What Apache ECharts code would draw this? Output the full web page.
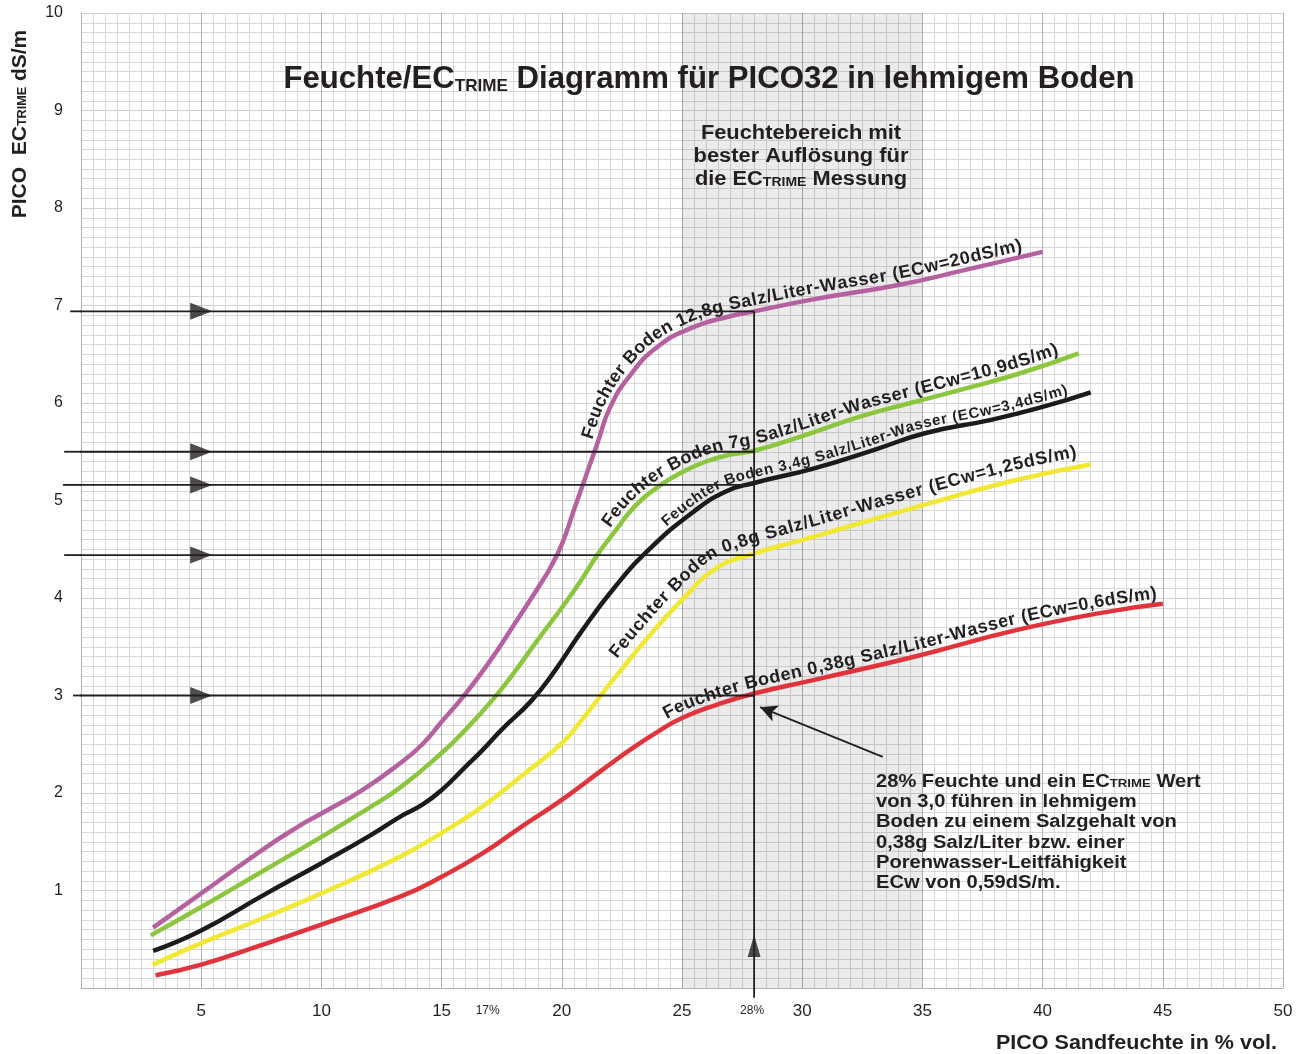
<!DOCTYPE html>
<html>
<head>
<meta charset="utf-8">
<script src="https://cdn.jsdelivr.net/npm/echarts@6/dist/echarts.min.js"></script>
<style>
html,body{margin:0;padding:0;background:#fff;}
#c{width:1305px;height:1054px;}
</style>
</head>
<body>
<div id="c"></div>
<script>
// ---------------- DATA ----------------
const xTickLabels = [5, 10, 15, 20, 25, 30, 35, 40, 45, 50];
const yTickLabels = [1, 2, 3, 4, 5, 6, 7, 8, 9, 10];
const xMarkLabels = [17, 28];            // extra labels "17%" and "28%"
const bandRange = [25, 35];              // best-resolution moisture range

// PICO moisture (% vol) vs ECtrime (dS/m)
const salt128 = [[3.0,0.62],[5,0.97],[7.5,1.41],[9,1.65],[10,1.79],[11.7,2.03],[13.3,2.31],[14.2,2.5],[15,2.73],[16,3.02],[17,3.35],[18,3.72],[19,4.1],[19.5,4.3],[20,4.55],[20.5,4.9],[21,5.25],[21.5,5.6],[22,5.95],[22.8,6.27],[24,6.58],[25.5,6.78],[27,6.89],[28,6.94],[30.4,7.06],[34,7.21],[36.7,7.36],[40,7.55]];
const salt70 = [[2.9,0.54],[5,0.83],[7.5,1.19],[10,1.55],[12,1.85],[13.3,2.06],[15,2.41],[16,2.65],[17.1,2.95],[18,3.23],[19,3.57],[20,3.9],[20.8,4.18],[21.5,4.45],[22.2,4.68],[23,4.93],[24,5.14],[25,5.29],[26,5.4],[27,5.47],[28,5.51],[30,5.66],[32.4,5.86],[34.5,6.0],[36.5,6.13],[39,6.3],[41.5,6.51]];
const salt34 = [[3.0,0.38],[5,0.59],[7.5,0.94],[10,1.28],[12,1.56],[13.3,1.76],[14.2,1.88],[15,2.03],[16,2.27],[16.7,2.44],[17.5,2.65],[18.75,2.95],[19.7,3.25],[20.8,3.65],[22.2,4.11],[23.6,4.49],[25.4,4.87],[26.8,5.09],[28,5.18],[30.5,5.33],[33,5.52],[35.1,5.69],[37.9,5.83],[40,5.96],[42,6.11]];
const salt08 = [[3.0,0.24],[5,0.46],[7.5,0.71],[10,0.97],[13.3,1.35],[15,1.59],[16.7,1.86],[18.3,2.17],[20,2.51],[20.8,2.74],[21.4,2.93],[22.2,3.18],[23.6,3.6],[25,3.98],[26.4,4.3],[27.8,4.44],[30.5,4.63],[34.7,4.93],[38.9,5.21],[42,5.37]];
const salt038 = [[3.1,0.13],[5,0.24],[7.5,0.44],[10,0.65],[13.3,0.94],[15,1.14],[16.7,1.38],[18.3,1.65],[20,1.93],[21.7,2.24],[23,2.47],[24,2.63],[25,2.77],[26.5,2.91],[28,3.02],[30.5,3.16],[34.7,3.4],[38.9,3.67],[42.5,3.85],[45,3.94]];

const curveTexts = [
  'Feuchter Boden 12,8g Salz/Liter-Wasser (ECw=20dS/m)',
  'Feuchter Boden 7g Salz/Liter-Wasser (ECw=10,9dS/m)',
  'Feuchter Boden 3,4g Salz/Liter-Wasser (ECw=3,4dS/m)',
  'Feuchter Boden 0,8g Salz/Liter-Wasser (ECw=1,25dS/m)',
  'Feuchter Boden 0,38g Salz/Liter-Wasser (ECw=0,6dS/m)'
];

// reading example at 28 % moisture
const readX = 28;
const readY = [6.94, 5.5, 5.16, 4.44, 3.0];
const readLineStart = [-0.45, -0.7, -0.75, -0.7, -0.33];
const readArrowX = 5;
const readBottom = -0.1;
const readUpArrowY = 0.43;
const noteArrowFrom = [33.35, 2.37];
const noteArrowTo = [28.25, 2.88];

// ---------------- STYLE ----------------
const FONT = '"Liberation Sans", Arial, Helvetica, sans-serif';
const INK = '#231f20';
const curveStyles = [
  { data: salt128, color: '#b5619f' },
  { data: salt70,  color: '#8cc63e' },
  { data: salt34,  color: '#1b1b1b' },
  { data: salt08,  color: '#f0e832' },
  { data: salt038, color: '#e1333c' }
];
// label placement along each curve (start / end moisture, font, offset)
const labelLayout = [
  { start: 21.5, end: 39.2, size: 18, weight: 'bold', off: 11 },
  { start: 22.2, end: 40.7, size: 18, weight: 'bold', off: 11 },
  { start: 24.5, end: 41.1, size: 15, weight: 'bold', off: 9.5 },
  { start: 22.6, end: 41.5, size: 18, weight: 'bold', off: 15 },
  { start: 24.5, end: 44.75, size: 18, weight: 'bold', off: 11 }
];

const chart = echarts.init(document.getElementById('c'), null, { renderer: 'canvas' });

const series = [];
curveStyles.forEach((c, i) => {
  const s = {
    type: 'line', data: c.data, smooth: 0.5, showSymbol: false, symbol: 'none',
    silent: true, z: 3,
    lineStyle: { color: c.color, width: 4.5, cap: 'butt' }
  };
  if (i === 0) {
    s.markArea = {
      silent: true,
      itemStyle: { color: 'rgba(0,0,0,0.08)' },
      data: [[{ xAxis: bandRange[0] }, { xAxis: bandRange[1] }]]
    };
  }
  series.push(s);
});
// horizontal reading lines
readY.forEach((y, i) => {
  series.push({
    type: 'line', data: [[readLineStart[i], y], [readX, y]], showSymbol: false, symbol: 'none',
    clip: false, silent: true, z: 5, lineStyle: { color: INK, width: 1.8 }
  });
});
// vertical reading line
series.push({
  type: 'line', data: [[readX, readBottom], [readX, readY[0]]], showSymbol: false, symbol: 'none',
  clip: false, silent: true, z: 5, lineStyle: { color: INK, width: 1.8 }
});
// arrow heads on horizontal lines
series.push({
  type: 'scatter', data: readY.map(y => [readArrowX, y]), symbol: 'triangle', symbolRotate: -90,
  symbolSize: [17, 22], itemStyle: { color: INK }, silent: true, z: 6
});
// arrow head on vertical line
series.push({
  type: 'scatter', data: [[readX, readUpArrowY]], symbol: 'triangle',
  symbolSize: [13, 22], itemStyle: { color: INK }, silent: true, z: 6
});
// note arrow
series.push({
  type: 'line', data: [], silent: true, z: 6,
  markLine: {
    silent: true, symbol: ['none', 'arrow'], symbolSize: [13, 17],
    label: { show: false },
    lineStyle: { color: INK, width: 1.8, type: 'solid' },
    data: [[{ coord: noteArrowFrom }, { coord: noteArrowTo }]]
  }
});

chart.setOption({
  animation: false,
  backgroundColor: '#ffffff',
  textStyle: { fontFamily: FONT },
  grid: { left: 81, right: 22, top: 13, bottom: 66 },
  xAxis: {
    type: 'value', min: 0, max: 50, interval: 5,
    axisLine: { show: true, onZero: false, lineStyle: { color: '#b0b0b0', width: 1 } },
    axisTick: { show: false },
    axisLabel: { margin: 15, fontSize: 17, color: INK, fontFamily: FONT,
      formatter: v => xTickLabels.includes(v) ? String(v) : '' },
    splitLine: { show: true, lineStyle: { color: '#b0b0b0', width: 1 } },
    minorTick: { show: false, splitNumber: 10 },
    minorSplitLine: { show: true, lineStyle: { color: '#d8d8d8', width: 1 } }
  },
  yAxis: {
    type: 'value', min: 0, max: 10, interval: 1,
    axisLine: { show: true, onZero: false, lineStyle: { color: '#b0b0b0', width: 1 } },
    axisTick: { show: false },
    axisLabel: { margin: 18, fontSize: 16, color: INK, fontFamily: FONT,
      formatter: v => yTickLabels.includes(v) ? String(v) : '' },
    splitLine: { show: true, lineStyle: { color: '#d0d0d0', width: 1 } },
    minorTick: { show: false, splitNumber: 10 },
    minorSplitLine: { show: true, lineStyle: { color: '#d8d8d8', width: 1 } }
  },
  series: series
});

// ---------------- TEXT ----------------
const measureCtx = document.createElement('canvas').getContext('2d');
function toPx(p) { return chart.convertToPixel({ gridIndex: 0 }, p); }

function catmull(pts, n) {
  const out = [];
  for (let i = 0; i < pts.length - 1; i++) {
    const p0 = pts[Math.max(i - 1, 0)], p1 = pts[i], p2 = pts[i + 1], p3 = pts[Math.min(i + 2, pts.length - 1)];
    for (let k = 0; k < n; k++) {
      const t = k / n, t2 = t * t, t3 = t2 * t;
      const f = j => 0.5 * (2 * p1[j] + (-p0[j] + p2[j]) * t + (2 * p0[j] - 5 * p1[j] + 4 * p2[j] - p3[j]) * t2 + (-p0[j] + 3 * p1[j] - 3 * p2[j] + p3[j]) * t3);
      out.push([f(0), f(1)]);
    }
  }
  out.push(pts[pts.length - 1].slice());
  return out;
}

function curvedLabel(data, text, lay) {
  const pts = data.map(toPx);
  const base = catmull(pts, 30);
  const N = base.length;
  const q = [];
  for (let i = 0; i < N; i++) {
    const a = base[Math.max(0, i - 3)], b = base[Math.min(N - 1, i + 3)];
    let tx = b[0] - a[0], ty = b[1] - a[1];
    const l = Math.hypot(tx, ty) || 1; tx /= l; ty /= l;
    q.push([base[i][0] + ty * lay.off, base[i][1] - tx * lay.off, base[i][0]]);
  }
  const cum = [0];
  for (let i = 1; i < N; i++) cum.push(cum[i - 1] + Math.hypot(q[i][0] - q[i - 1][0], q[i][1] - q[i - 1][1]));
  const idxAtX = x => { const px = toPx([x, 0])[0]; for (let i = 0; i < N; i++) if (base[i][0] >= px) return i; return N - 1; };
  const s0 = cum[idxAtX(lay.start)], s1 = cum[idxAtX(lay.end)];
  const pointAt = s => {
    if (s <= 0) return q[0];
    for (let i = 1; i < N; i++) {
      if (cum[i] >= s) {
        const t = (s - cum[i - 1]) / ((cum[i] - cum[i - 1]) || 1);
        return [q[i - 1][0] + (q[i][0] - q[i - 1][0]) * t, q[i - 1][1] + (q[i][1] - q[i - 1][1]) * t];
      }
    }
    return q[N - 1];
  };
  measureCtx.font = lay.weight + ' ' + lay.size + 'px ' + FONT;
  const chars = Array.from(text);
  const widths = chars.map(c => measureCtx.measureText(c).width);
  const natural = widths.reduce((a, b) => a + b, 0);
  const sp = (s1 - s0 - natural) / (chars.length - 1);
  const els = [];
  let s = s0;
  chars.forEach((c, i) => {
    const w = widths[i];
    const pA = pointAt(s), pB = pointAt(s + w), pC = pointAt(s + w / 2);
    const ang = Math.atan2(-(pB[1] - pA[1]), pB[0] - pA[0]);
    if (c !== ' ') {
      els.push({
        type: 'text', x: pC[0], y: pC[1], rotation: ang, silent: true, z: 100,
        style: { text: c, fontFamily: FONT, fontSize: lay.size, fontWeight: lay.weight, fill: INK,
          align: 'center', verticalAlign: 'middle', textAlign: 'center', textVerticalAlign: 'middle' }
      });
    }
    s += w + sp;
  });
  return els;
}

function richText(x, y, text, big, small, extra) {
  return Object.assign({
    type: 'text', x: x, y: y, silent: true, z: 100,
    style: Object.assign({
      text: text, fill: INK,
      rich: {
        b: { fontFamily: FONT, fontWeight: 'bold', fontSize: big.size, lineHeight: big.lh, fill: INK },
        s: { fontFamily: FONT, fontWeight: 'bold', fontSize: small.size, fill: INK, verticalAlign: 'bottom', padding: [0, 0, small.pad, 0] }
      }
    }, extra.style || {})
  }, extra.el || {});
}

const graphics = [];
// stubs of the reading lines left of the y axis (outside the plot area)
readY.forEach((y, i) => {
  const a = toPx([readLineStart[i], y]), b = toPx([0, y]);
  graphics.push({
    type: 'line', silent: true, z: 50,
    shape: { x1: a[0], y1: a[1], x2: b[0], y2: b[1] },
    style: { stroke: INK, lineWidth: 1.8 }
  });
});
// title
graphics.push(richText(709, 79,
  '{b|Feuchte/EC}{s|TRIME}{b| Diagramm für PICO32 in lehmigem Boden}',
  { size: 31, lh: 36 }, { size: 17, pad: 2 },
  { el: { scaleX: 1.005 },
    style: { align: 'center', verticalAlign: 'middle', textAlign: 'center', textVerticalAlign: 'middle' } }));
// band caption
graphics.push(richText(801, 157,
  '{b|Feuchtebereich mit}\n{b|bester Auflösung für}\n{b|die EC}{s|TRIME}{b| Messung}',
  { size: 19.5, lh: 23 }, { size: 12.5, pad: 2 },
  { el: { scaleX: 1.12 },
    style: { align: 'center', verticalAlign: 'middle', textAlign: 'center', textVerticalAlign: 'middle' } }));
// note
graphics.push(richText(876, 772,
  '{b|28% Feuchte und ein EC}{s|TRIME}{b| Wert}\n{b|von 3,0 führen in lehmigem}\n{b|Boden zu einem Salzgehalt von}\n{b|0,38g Salz/Liter bzw. einer}\n{b|Porenwasser-Leitfähigkeit}\n{b|ECw von 0,59dS/m.}',
  { size: 17.5, lh: 20.2 }, { size: 11.5, pad: 2 },
  { el: { scaleX: 1.15 },
    style: { align: 'left', verticalAlign: 'top', textAlign: 'left', textVerticalAlign: 'top' } }));
// y axis title
graphics.push(richText(20, 124,
  '{b|PICO  EC}{s|TRIME}{b| dS/m}',
  { size: 20, lh: 22 }, { size: 12, pad: 2 },
  { el: { rotation: Math.PI / 2, scaleX: 1.05 },
    style: { align: 'center', verticalAlign: 'middle', textAlign: 'center', textVerticalAlign: 'middle' } }));
// x axis title
graphics.push({
  type: 'text', x: 1277, y: 1043, silent: true, z: 100, scaleX: 1.05,
  style: { text: 'PICO Sandfeuchte in % vol.', fontFamily: FONT, fontWeight: 'bold', fontSize: 20.5, fill: INK,
    align: 'right', verticalAlign: 'middle', textAlign: 'right', textVerticalAlign: 'middle' }
});
// extra x labels
xMarkLabels.forEach(v => {
  const p = toPx([v, 0]);
  graphics.push({
    type: 'text', x: p[0] - 2, y: p[1] + 23, silent: true, z: 100,
    style: { text: v + '%', fontFamily: FONT, fontSize: 12, fill: INK,
      align: 'center', verticalAlign: 'middle', textAlign: 'center', textVerticalAlign: 'middle' }
  });
});
// curve labels
curveStyles.forEach((c, i) => {
  curvedLabel(c.data, curveTexts[i], labelLayout[i]).forEach(e => graphics.push(e));
});

chart.setOption({ graphic: { elements: graphics } });
</script>
</body>
</html>
